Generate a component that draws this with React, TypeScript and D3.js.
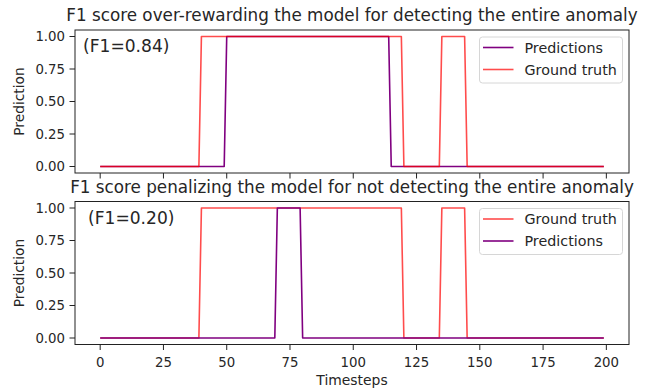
import * as d3 from "d3";
import React from "react";

// anomaly intervals (inclusive timestep ranges where value = 1)
const nSteps = 200;
const topTruth: [number, number][] = [[40, 119], [135, 144]];
const topPred: [number, number][] = [[50, 114]];
const botTruth: [number, number][] = [[40, 119], [135, 144]];
const botPred: [number, number][] = [[70, 79]];
const xTicks = [0, 25, 50, 75, 100, 125, 150, 175, 200];
const yTicks = [0, 0.25, 0.5, 0.75, 1];

const toSeries = (segs: [number, number][]) =>
  d3.range(nSteps).map(t => (segs.some(([a, b]) => t >= a && t <= b) ? 1 : 0));

const PURPLE = "#800080";
const RED = "rgba(255,0,0,0.7)";
const FONT = "DejaVu Sans, sans-serif";
const TXT = "#262626";

type Line = { name: string; segs: [number, number][]; color: string };

const panels: { title: string; f1: string; top: number; lines: Line[]; f1x: number }[] = [
  {
    title: "F1 score over-rewarding the model for detecting the entire anomaly",
    f1: "(F1=0.84)",
    top: 30,
    f1x: 83,
    lines: [
      { name: "Predictions", segs: topPred, color: PURPLE },
      { name: "Ground truth", segs: topTruth, color: RED },
    ],
  },
  {
    title: "F1 score penalizing the model for not detecting the entire anomaly",
    f1: "(F1=0.20)",
    top: 201.5,
    f1x: 88,
    lines: [
      { name: "Ground truth", segs: botTruth, color: RED },
      { name: "Predictions", segs: botPred, color: PURPLE },
    ],
  },
];

const left = 75, right = 629, ph = 143;

export default function App() {
  const x = d3.scaleLinear().domain([-9.95, 208.95]).range([left, right]);
  return (
    <svg width={652} height={389} style={{ position: "absolute", left: 0, top: 0, background: "#fff" }}
      fontFamily={FONT}>
      {panels.map((p, pi) => {
        const y = d3.scaleLinear().domain([-0.05, 1.05]).range([p.top + ph, p.top]);
        const line = d3.line<number>().x((_, i) => x(i)).y(d => y(d));
        const lx = 479.5, ly = p.top + 7, lw = 143, lhh = 46;
        return (
          <g key={pi}>
            <text x={(left + right) / 2} y={p.top - 9} textAnchor="middle" fontSize={16.8} fill={TXT}>{p.title}</text>
            {p.lines.map(l => (
              <path key={l.name} d={line(toSeries(l.segs)) || ""} fill="none" stroke={l.color} strokeWidth={1.6}
                strokeLinejoin="round" />
            ))}
            <rect x={left} y={p.top} width={right - left} height={ph} fill="none" stroke="#222" strokeWidth={1} />
            {yTicks.map(t => (
              <g key={t}>
                <line x1={left} x2={left - 5.5} y1={y(t)} y2={y(t)} stroke="#222" />
                <text x={left - 10} y={y(t)} dy="0.36em" textAnchor="end" fontSize={13.3} fill={TXT}>{t.toFixed(2)}</text>
              </g>
            ))}
            {xTicks.map(t => (
              <g key={t}>
                <line x1={x(t)} x2={x(t)} y1={p.top + ph} y2={p.top + ph + 5.5} stroke="#222" />
                {pi === 1 && (
                  <text x={x(t)} y={p.top + ph + 22} textAnchor="middle" fontSize={13.3} fill={TXT}>{t}</text>
                )}
              </g>
            ))}
            <text transform={`translate(${24},${p.top + ph / 2}) rotate(-90)`} textAnchor="middle" fontSize={13.8}
              fill={TXT}>Prediction</text>
            <text x={p.f1x} y={p.top + 22} fontSize={17.1} fill={TXT}>{p.f1}</text>
            <rect x={lx} y={ly} width={lw} height={lhh} rx={3} fill="rgba(255,255,255,0.8)" stroke="#d6d6d6" />
            {p.lines.map((l, i) => (
              <g key={l.name}>
                <line x1={lx + 3.5} x2={lx + 34} y1={ly + 10.5 + i * 22} y2={ly + 10.5 + i * 22} stroke={l.color}
                  strokeWidth={1.6} />
                <text x={lx + 45} y={ly + 10.5 + i * 22} dy="0.36em" fontSize={14.3} fill={TXT}>{l.name}</text>
              </g>
            ))}
          </g>
        );
      })}
      <text x={(left + right) / 2} y={385} textAnchor="middle" fontSize={13.9} fill={TXT}>Timesteps</text>
    </svg>
  );
}
